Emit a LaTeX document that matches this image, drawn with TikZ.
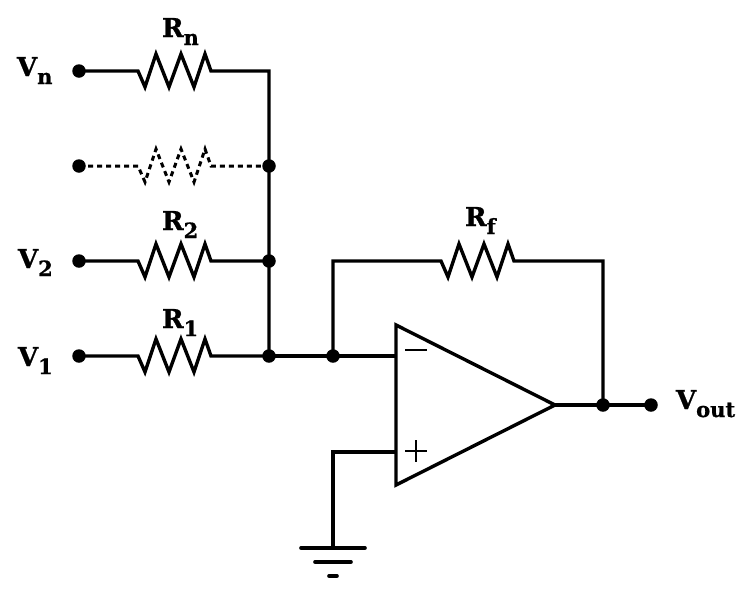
\documentclass[tikz,border=0pt]{standalone}
\usepackage{fontspec}
\setmainfont[BoldFeatures={FakeBold=0.9}]{DejaVu Serif}
\newcommand{\sublabel}[2]{{\fontsize{26}{26}\selectfont\bfseries #1}\raisebox{-8pt}{\fontsize{21}{21}\selectfont\bfseries #2}}
\newcommand{\zigzag}{-- ++(7,16) -- ++(11,-33) -- ++(13,33) -- ++(12,-33) -- ++(13,33) -- ++(11,-33) -- ++(6,17)}
\tikzset{
  wire/.style={line width=3.4pt,line join=miter},
  dotted wire/.style={wire,line width=3pt,dash pattern=on 5pt off 4pt},
  term/.style={circle,fill=black,draw=none,inner sep=0pt,minimum size=13.5pt},
  lbl/.style={anchor=base west,inner sep=0pt,outer sep=0pt,text=black},
  thinline/.style={line width=2.6pt},
  gnd/.style={line width=3.6pt,line cap=round}
}
\begin{document}
\begin{tikzpicture}[x=1pt,y=-1pt]
\useasboundingbox (0,0) rectangle (747,600);
% terminals and junctions
\node[term] (tn) at (79,71) {};
\node[term] (td) at (79,166) {};
\node[term] (t2) at (79,261) {};
\node[term] (t1) at (79,356) {};
\node[term] (jd) at (269,166) {};
\node[term] (j2) at (269,261) {};
\node[term] (j1) at (269,356) {};
\node[term] (jf) at (333,356) {};
\node[term] (jo) at (603,405) {};
\node[term] (tout) at (651,405) {};
\coordinate (cn) at (269,71);
\coordinate (inm) at (396,356);
\coordinate (inp) at (396,452);
\coordinate (tip) at (555,405);
\coordinate (gt) at (333,548);
\coordinate (pc) at (333,452);
\coordinate (fl) at (333,261);
\coordinate (fr) at (603,261);
% input branches
\draw[wire] (tn.center) -- (138,71) \zigzag -- (cn) -- (j1.center);
\draw[dotted wire] (td.center) -- (138,166) \zigzag -- (jd.center);
\draw[wire] (t2.center) -- (138,261) \zigzag -- (j2.center);
\draw[wire] (t1.center) -- (138,356) \zigzag -- (j1.center);
\draw[wire] (j1.center) -- (inm);
% feedback
\draw[wire] (jf.center) -- (fl) -- (441,261) \zigzag -- (fr) -- (jo.center);
% op amp
\draw[wire] (396,325) -- (tip) -- (396,485) -- cycle;
\draw[wire] (tip) -- (tout.center);
\draw[wire] (inp) -- (pc) -- (gt);
% signs
\draw[thinline] (405,350) -- (427,350);
\draw[thinline] (405,451) -- (427,451);
\draw[thinline] (416,440) -- (416,462);
% ground
\draw[gnd] (301,548) -- (365,548);
\draw[gnd] (315,562) -- (351,562);
\draw[gnd] (329,576) -- (337,576);
% labels
\node[lbl] (lrn) at (162,37) {\sublabel{R}{n}};
\node[lbl] (lr2) at (162,230) {\sublabel{R}{2}};
\node[lbl] (lr1) at (162,328) {\sublabel{R}{1}};
\node[lbl] (lrf) at (465,226) {\sublabel{R}{f}};
\node[lbl] (lvn) at (17,76) {\sublabel{V}{n}};
\node[lbl] (lv2) at (18,268) {\sublabel{V}{2}};
\node[lbl] (lv1) at (18,366) {\sublabel{V}{1}};
\node[lbl] (lvo) at (676,409) {\sublabel{V}{out}};
\end{tikzpicture}
\end{document}
